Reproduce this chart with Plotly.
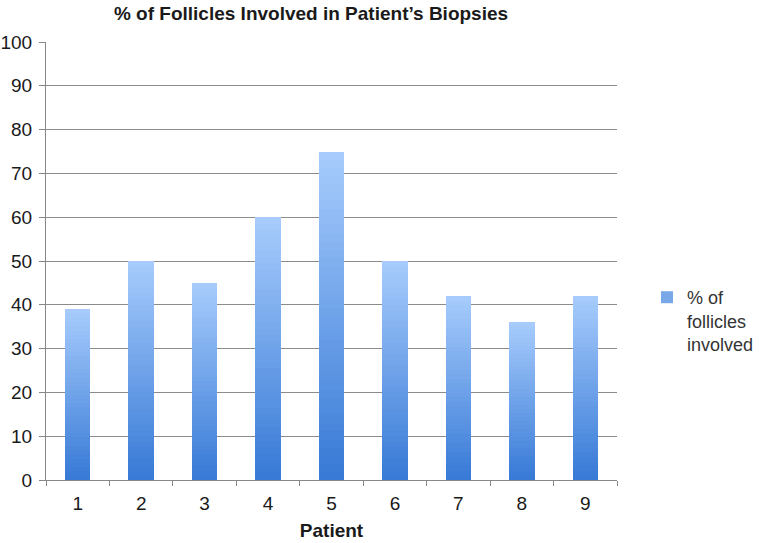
import plotly.graph_objects as go

patients = ["1", "2", "3", "4", "5", "6", "7", "8", "9"]
pct_involved = [39, 50, 45, 60, 75, 50, 42, 36, 42]
y_ticks = [0, 10, 20, 30, 40, 50, 60, 70, 80, 90, 100]

title_text = "% of Follicles Involved in Patient’s Biopsies"
legend_name = "% of<br>follicles<br>involved"

# vertical gradient built from stacked slices of each bar
N = 40
dark = (56, 122, 214)
light = (166, 203, 252)

fig = go.Figure()
for i in range(N):
    t = i / (N - 1)
    c = tuple(round(dark[k] + (light[k] - dark[k]) * t) for k in range(3))
    fig.add_trace(go.Bar(
        x=patients,
        y=[v / N for v in pct_involved],
        marker=dict(color="rgb(%d,%d,%d)" % c, line=dict(width=0)),
        width=0.4,
        showlegend=False,
        hoverinfo="skip",
    ))

# legend entry
fig.add_trace(go.Bar(
    x=[None], y=[None],
    name=legend_name,
    marker=dict(color="rgb(120,168,232)", line=dict(width=0)),
    showlegend=True,
))

fig.update_layout(
    width=759, height=543,
    barmode="stack",
    bargap=0.6,
    plot_bgcolor="white",
    paper_bgcolor="white",
    font=dict(family="Liberation Sans, Arial, sans-serif", size=19, color="#1a1a1a"),
    margin=dict(l=46, r=142, t=42, b=63, autoexpand=False),
    title=dict(
        text="<b>" + title_text + "</b>",
        x=311 / 759, xref="container", xanchor="center",
        y=1 - 13 / 543, yref="container", yanchor="middle",
        font=dict(size=19, color="#1a1a1a"),
    ),
    legend=dict(
        x=1.0525, xref="paper", xanchor="left", y=0.363, yanchor="middle",
        font=dict(size=18, color="#333333"),
        itemwidth=30,
        valign="top",
        bgcolor="rgba(0,0,0,0)",
    ),
    xaxis=dict(
        type="category",
        tickson="boundaries",
        ticks="outside", ticklen=5, tickcolor="#888888",
        showline=True, linecolor="#888888", linewidth=1,
        showgrid=False,
        automargin=False,
        ticklabelstandoff=6,
        title=dict(text="<b>Patient</b>", standoff=10, font=dict(size=19)),
        tickfont=dict(size=19),
    ),
    yaxis=dict(
        range=[0, 100],
        tickvals=y_ticks,
        ticks="outside", ticklen=6, tickcolor="#888888",
        showline=True, linecolor="#888888", linewidth=1,
        showgrid=True, gridcolor="#8c8c8c", gridwidth=1,
        zeroline=False,
        automargin=False,
        ticklabelstandoff=3,
        tickfont=dict(size=19),
    ),
)

fig.write_html(
    "out.html",
    config={"displayModeBar": False},
    post_script="document.body.style.margin='0';",
)
